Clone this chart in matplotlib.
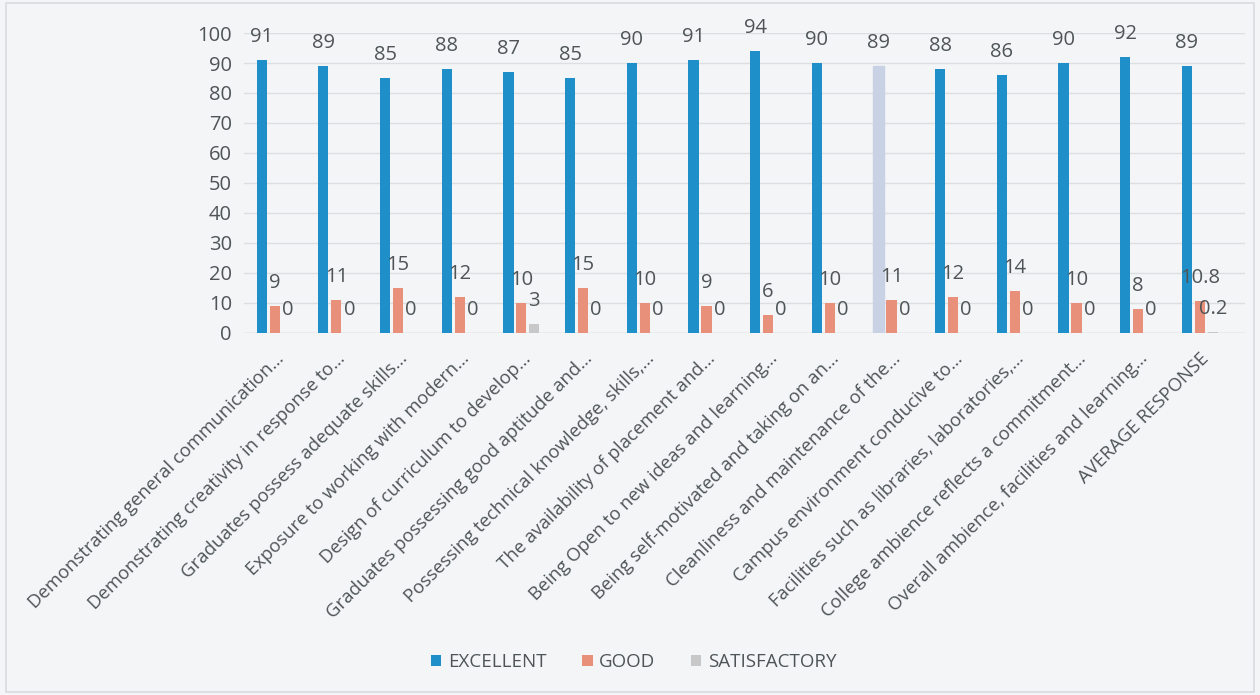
import numpy as np
import matplotlib.pyplot as plt
from matplotlib.patches import Rectangle

# Data
categories = [
    "Demonstrating general communication\u2026",
    "Demonstrating creativity in response to\u2026",
    "Graduates possess adequate skills\u2026",
    "Exposure to working with modern\u2026",
    "Design of curriculum to develop\u2026",
    "Graduates possessing good aptitude and\u2026",
    "Possessing technical knowledge, skills,\u2026",
    "The availability of placement and\u2026",
    "Being Open to new ideas and learning\u2026",
    "Being self-motivated and taking on an\u2026",
    "Cleanliness and maintenance of the\u2026",
    "Campus environment conducive to\u2026",
    "Facilities such as libraries, laboratories,\u2026",
    "College ambience reflects a commitment\u2026",
    "Overall ambience, facilities and learning\u2026",
    "AVERAGE RESPONSE",
]
excellent = [91, 89, 85, 88, 87, 85, 90, 91, 94, 90, 89, 88, 86, 90, 92, 89]
good = [9, 11, 15, 12, 10, 15, 10, 9, 6, 10, 11, 12, 14, 10, 8, 10.8]
satisfactory = [0, 0, 0, 0, 3, 0, 0, 0, 0, 0, 0, 0, 0, 0, 0, 0.2]
series_names = ["EXCELLENT", "GOOD", "SATISFACTORY"]
yticks = [0, 10, 20, 30, 40, 50, 60, 70, 80, 90, 100]

plt.rcParams['font.family'] = ['Open Sans', 'DejaVu Sans']
text_col = '#4f5557'
bg = '#f3f5f7'

fig = plt.figure(figsize=(12.6, 6.95), dpi=100, facecolor=bg)
fig.patches.append(Rectangle((0.005, 0.005), 0.99, 0.99, transform=fig.transFigure,
                             fill=False, edgecolor='#d9dcdf', linewidth=1.2))
ax = fig.add_axes([0.194, 0.521, 0.794, 0.4315])
ax.set_facecolor(bg)

x = np.arange(len(categories))
step = 0.21
width = 0.165
colors = ['#1f8fc9', '#e8907a', '#c8c8c8']

all_bars = []
for i, vals in enumerate([excellent, good, satisfactory]):
    bars = ax.bar(x + (i - 1) * step, vals, width, color=colors[i], label=series_names[i], zorder=3)
    all_bars.append(bars)
    for xi, v in zip(x, vals):
        ax.annotate(f"{v:g}", (xi + (i - 1) * step, v), xytext=(0, 16.5), textcoords='offset points',
                    ha='center', va='center', fontsize=14.5, color=text_col, zorder=4)

# the scanned reference shows this bar washed out
all_bars[0][10].set_color('#c9d2e4')

ax.set_ylim(0, 100)
ax.set_yticks(yticks)
ax.set_xlim(-0.49, 15.73)
ax.set_xticks(x)
ax.set_xticklabels(categories, rotation=45, ha='right', rotation_mode='anchor',
                   fontsize=13.3, color=text_col)
ax.tick_params(axis='x', length=0, pad=12)
ax.tick_params(axis='y', length=0, pad=9, labelsize=14.5, labelcolor=text_col)
ax.grid(axis='y', color='#dcdfe2', linewidth=1, zorder=0)
for s in ax.spines.values():
    s.set_visible(False)
ax.axhline(0, color='#d5d8db', linewidth=1, zorder=2)

leg = fig.legend(handles=all_bars, labels=series_names, loc='center', bbox_to_anchor=(0.503, 0.047),
                 ncol=3, frameon=False, fontsize=13.5, handlelength=0.55, handleheight=0.55,
                 columnspacing=1.9, handletextpad=0.35)
for t in leg.get_texts():
    t.set_color(text_col)

plt.savefig('out.png', dpi=100, facecolor=bg)
